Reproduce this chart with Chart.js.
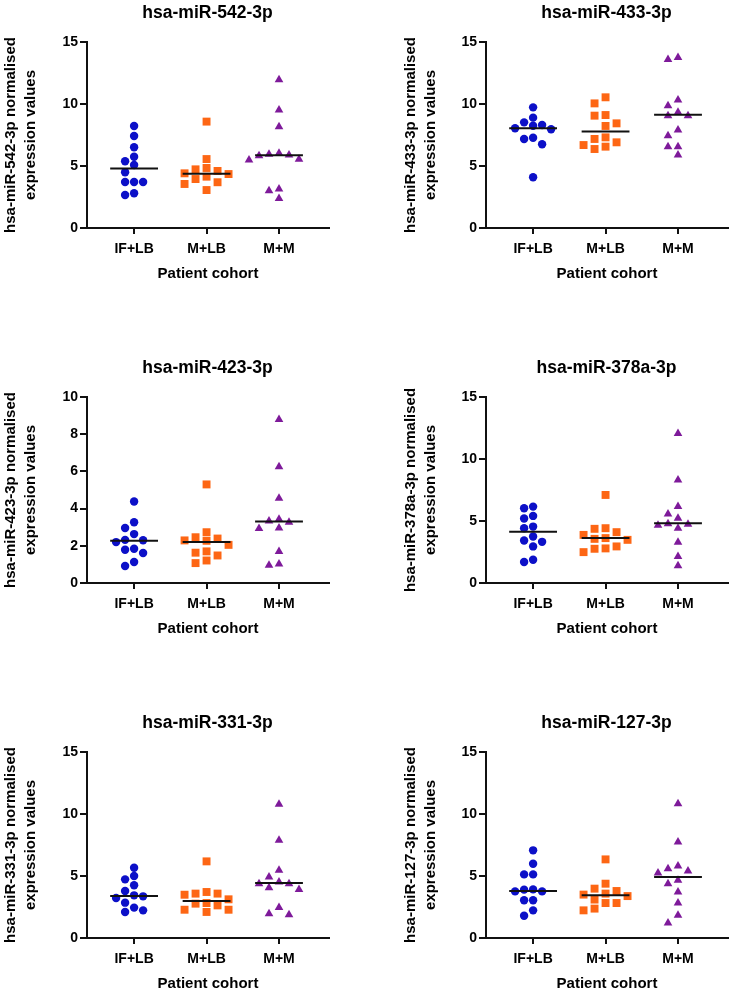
<!DOCTYPE html>
<html>
<head>
<meta charset="utf-8">
<script src="https://cdn.jsdelivr.net/npm/chart.js@4.4.1/dist/chart.umd.min.js"></script>
<style>
  body { margin: 0; background: #fff; width: 733px; height: 993px; overflow: hidden; position: relative; }
  canvas { position: absolute; }
</style>
</head>
<body>
<canvas id="p0"></canvas>
<canvas id="p1"></canvas>
<canvas id="p2"></canvas>
<canvas id="p3"></canvas>
<canvas id="p4"></canvas>
<canvas id="p5"></canvas>
<script>
// categories
const cohorts = ['IF+LB', 'M+LB', 'M+M'];
const mirnas = ['hsa-miR-542-3p', 'hsa-miR-433-3p', 'hsa-miR-423-3p', 'hsa-miR-378a-3p', 'hsa-miR-331-3p', 'hsa-miR-127-3p'];

// values
const mir542_IFLB = [8.23, 7.42, 6.51, 5.75, 5.38, 5.08, 4.49, 3.71, 3.71, 3.71, 2.80, 2.66];
const mir542_MLB = [8.58, 5.56, 4.84, 4.73, 4.60, 4.41, 4.35, 4.14, 3.95, 3.69, 3.55, 3.06];
const mir542_MM = [11.95, 9.52, 8.17, 6.02, 5.94, 5.89, 5.83, 5.54, 5.48, 3.15, 3.01, 2.37];
const mir542_median = [4.80, 4.38, 5.86];

const mir433_IFLB = [9.73, 8.90, 8.52, 8.31, 8.25, 8.04, 7.96, 7.28, 7.18, 6.75, 4.09];
const mir433_MLB = [10.54, 10.05, 9.11, 9.06, 8.44, 8.23, 7.31, 7.18, 6.91, 6.69, 6.56, 6.37];
const mir433_MM = [13.76, 13.58, 10.32, 9.86, 9.33, 9.06, 9.06, 7.90, 7.44, 6.56, 6.56, 5.89];
const mir433_median = [8.04, 7.78, 9.14];

const mir423_IFLB = [4.38, 3.27, 2.96, 2.63, 2.32, 2.30, 2.20, 1.84, 1.79, 1.61, 1.13, 0.91];
const mir423_MLB = [5.30, 2.73, 2.46, 2.39, 2.29, 2.27, 2.05, 1.70, 1.63, 1.48, 1.21, 1.07];
const mir423_MM = [8.79, 6.25, 4.55, 3.43, 3.34, 3.27, 2.96, 2.93, 1.70, 1.02, 0.96];
const mir423_median = [2.27, 2.20, 3.30];

const mir378_IFLB = [6.16, 6.03, 5.41, 5.20, 4.55, 4.42, 3.75, 3.43, 3.32, 2.95, 1.88, 1.69];
const mir378_MLB = [7.10, 4.42, 4.37, 4.10, 3.88, 3.62, 3.56, 3.48, 2.95, 2.79, 2.76, 2.49];
const mir378_MM = [12.05, 8.30, 6.16, 5.57, 5.22, 4.77, 4.74, 4.66, 4.42, 3.29, 2.14, 1.39];
const mir378_median = [4.13, 3.62, 4.82];

const mir331_IFLB = [5.67, 5.00, 4.73, 4.25, 3.79, 3.44, 3.36, 3.23, 2.85, 2.45, 2.23, 2.10];
const mir331_MLB = [6.18, 3.71, 3.58, 3.58, 3.49, 3.12, 2.82, 2.77, 2.63, 2.28, 2.28, 2.10];
const mir331_MM = [10.78, 7.88, 5.46, 4.92, 4.52, 4.38, 4.38, 4.06, 3.92, 2.45, 1.96, 1.88];
const mir331_median = [3.39, 2.98, 4.44];

const mir127_IFLB = [7.07, 5.99, 5.13, 5.13, 3.92, 3.90, 3.76, 3.76, 3.04, 3.04, 2.23, 1.80];
const mir127_MLB = [6.34, 4.38, 3.98, 3.79, 3.58, 3.50, 3.38, 3.10, 2.82, 2.82, 2.37, 2.23];
const mir127_MM = [10.83, 7.74, 5.81, 5.59, 5.40, 5.24, 4.65, 4.38, 3.71, 2.82, 1.83, 1.21];
const mir127_median = [3.79, 3.44, 4.92];

// y axis ranges / tick steps
const yMax = [15, 15, 10, 15, 15, 15];
const yStep = [5, 5, 2, 5, 5, 5];

const groups = [
  [mir542_IFLB, mir542_MLB, mir542_MM],
  [mir433_IFLB, mir433_MLB, mir433_MM],
  [mir423_IFLB, mir423_MLB, mir423_MM],
  [mir378_IFLB, mir378_MLB, mir378_MM],
  [mir331_IFLB, mir331_MLB, mir331_MM],
  [mir127_IFLB, mir127_MLB, mir127_MM]
];
const medians = [mir542_median, mir433_median, mir423_median, mir378_median, mir331_median, mir127_median];

const colors = ['#0c10c8', '#fd6614', '#7e1a9a'];
const shapes = ['circle', 'rect', 'triangle'];
const radii = [4.2, 5.6, 5];
const colStep = [9, 11, 10];   // sideways step between neighbouring markers, px
const rowGap = [8, 8.5, 8];     // markers closer than this vertically get moved aside, px

const FONT = '"Liberation Sans", Arial, Helvetica, sans-serif';
const X_MIN = 0.35, X_MAX = 3.69;
const PLOT_H = 186, PLOT_W = 242;
const cols = [
  { left: 0, width: 415, axisW: 87, yTitlePad: 1 },
  { left: 380, width: 453, axisW: 106, yTitlePad: 21 }
];
const rowTops = [0, 355, 710];

// scatter-dot layout: points that would overlap are moved to side columns
function swarm(values, yPx, xPx, step, gap) {
  const placed = [];
  const offs = new Array(values.length).fill(0);
  const order = values.map((v, i) => i).sort((a, b) => values[b] - values[a]);
  for (const i of order) {
    const y = values[i] * yPx;
    for (let k = 0; k < 21; k++) {
      const c = (k % 2 ? -1 : 1) * Math.ceil(k / 2);
      if (placed.every(p => p.c !== c || Math.abs(p.y - y) >= gap)) {
        offs[i] = c * step;
        placed.push({ c: c, y: y });
        break;
      }
    }
  }
  return offs.map(o => o / xPx);
}

mirnas.forEach((name, p) => {
  const col = cols[p % 2];
  const padRight = col.width - col.axisW - PLOT_W;
  const canvas = document.getElementById('p' + p);
  canvas.width = col.width;
  canvas.height = 283;
  canvas.style.left = col.left + 'px';
  canvas.style.top = rowTops[Math.floor(p / 2)] + 'px';

  const xPx = PLOT_W / (X_MAX - X_MIN);
  const yPx = PLOT_H / yMax[p];
  const datasets = [];
  groups[p].forEach((vals, g) => {
    const offs = swarm(vals, yPx, xPx, colStep[g], rowGap[g]);
    datasets.push({
      type: 'scatter',
      data: vals.map((v, j) => ({ x: g + 1 + offs[j], y: v })),
      pointStyle: shapes[g],
      pointRadius: radii[g],
      pointBackgroundColor: colors[g],
      pointBorderWidth: 0,
      order: 2
    });
    datasets.push({
      type: 'line',
      data: [{ x: g + 1 - 0.33, y: medians[p][g] }, { x: g + 1 + 0.33, y: medians[p][g] }],
      borderColor: '#111',
      borderWidth: 2,
      pointRadius: 0,
      order: 1
    });
  });

  new Chart(canvas, {
    type: 'scatter',
    data: { datasets },
    options: {
      responsive: false,
      animation: false,
      devicePixelRatio: 1,
      layout: { padding: 0 },
      plugins: {
        legend: { display: false },
        tooltip: { enabled: false },
        title: {
          display: true,
          text: name,
          color: '#000',
          font: { family: FONT, size: 17.5, weight: 'bold', lineHeight: 1.2 },
          padding: { top: 2.5, bottom: 18.5 }
        }
      },
      scales: {
        x: {
          type: 'linear',
          min: X_MIN,
          max: X_MAX,
          afterFit: s => { s.height = 55; },
          border: { display: true, color: '#111', width: 2 },
          grid: { drawOnChartArea: false, drawTicks: true, tickLength: 6, color: '#111', lineWidth: 2 },
          ticks: {
            stepSize: 1,
            includeBounds: false,
            autoSkip: false,
            maxRotation: 0,
            padding: 7,
            color: '#000',
            font: { family: FONT, size: 14, weight: 'bold' },
            callback: v => cohorts[v - 1] || ''
          },
          title: {
            display: true,
            text: 'Patient cohort',
            color: '#000',
            font: { family: FONT, size: 15, weight: 'bold', lineHeight: 1.2 },
            padding: { top: 0, bottom: 0 }
          }
        },
        y: {
          min: 0,
          max: yMax[p],
          afterFit: s => { s.width = col.axisW; },
          border: { display: true, color: '#111', width: 2 },
          grid: { drawOnChartArea: false, drawTicks: true, tickLength: 7, color: '#111', lineWidth: 2 },
          ticks: {
            stepSize: yStep[p],
            padding: 2,
            color: '#000',
            font: { family: FONT, size: 14, weight: 'bold' }
          },
          title: {
            display: true,
            text: [name + ' normalised', 'expression values'],
            color: '#000',
            font: { family: FONT, size: 15, weight: 'bold', lineHeight: 1.333 },
            padding: { top: col.yTitlePad, bottom: 0 }
          }
        },
        // empty box on the right so the title sits centred over the plot
        spacer: {
          type: 'linear',
          position: 'right',
          display: true,
          afterFit: s => { s.width = padRight; },
          border: { display: false },
          grid: { display: false },
          ticks: { display: false }
        }
      }
    }
  });
});
</script>
</body>
</html>
